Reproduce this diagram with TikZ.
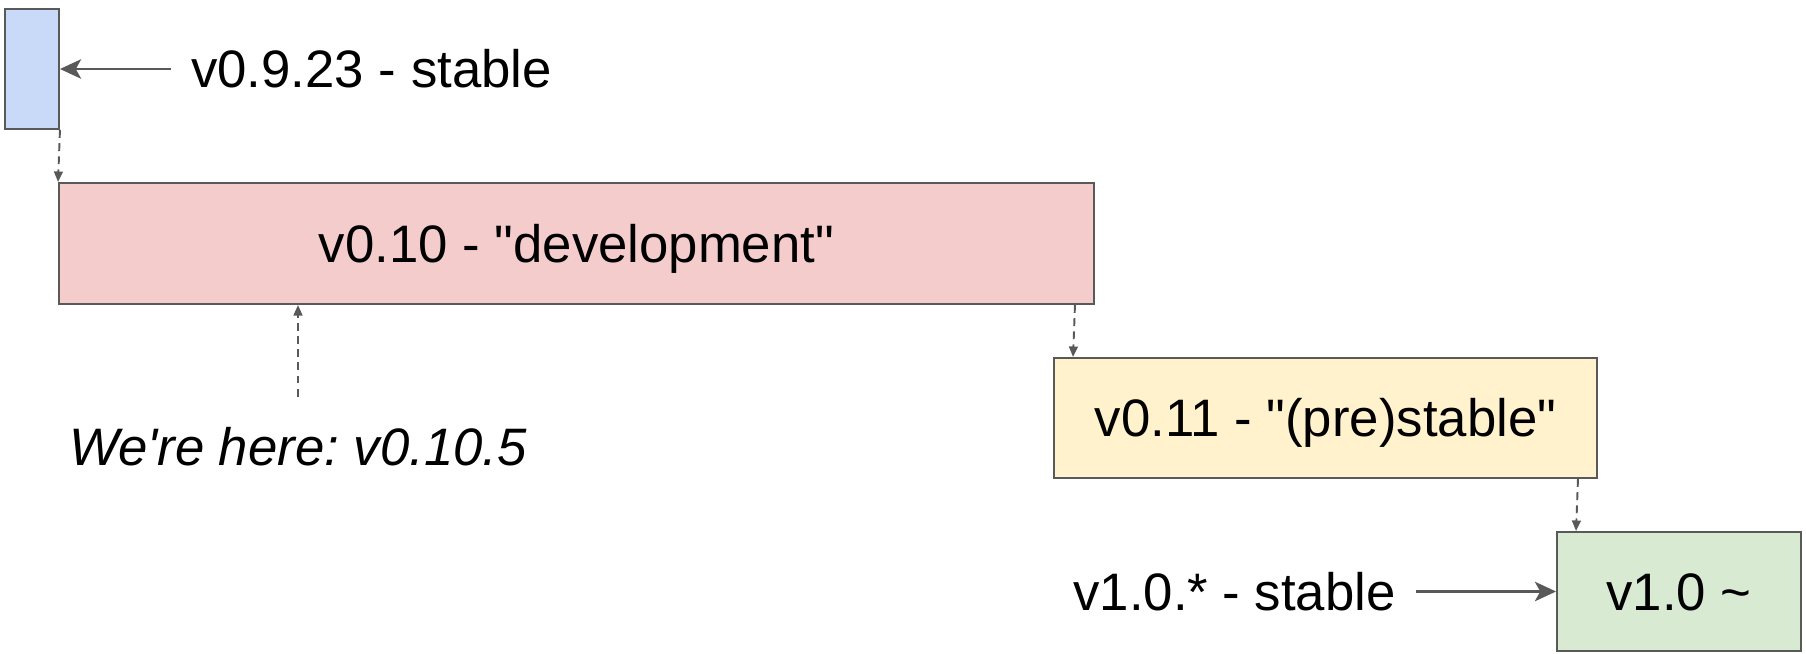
\documentclass[tikz,border=0pt]{standalone}
\usepackage{fontspec}
\setmainfont{Liberation Sans}[Ligatures=TeXOff]
\usetikzlibrary{arrows.meta,positioning}
\definecolor{linegray}{HTML}{595959}
\definecolor{bluefill}{HTML}{C9DAF8}
\definecolor{pinkfill}{HTML}{F4CCCC}
\definecolor{yellowfill}{HTML}{FFF2CC}
\definecolor{greenfill}{HTML}{D9EAD3}

\begin{document}
\begin{tikzpicture}[font=\fontsize{30}{36}\selectfont\frenchspacing,
  box/.style={draw=linegray, line width=1.1pt, inner sep=0pt, text height=21.6pt, text depth=0pt},
  lbl/.style={inner xsep=0.4cm, inner ysep=0pt},
  solidarrow/.style={-{Stealth[length=12pt,width=11pt,inset=3pt]}, draw=linegray, line width=1.7pt},
  dep/.style={-{Triangle[length=6pt,width=5pt]}, draw=linegray, line width=1.1pt, dash pattern=on 4.5pt off 3pt}]
\useasboundingbox (0,0) rectangle (36.12,-13.08);
\node[box, fill=bluefill, minimum width=1.08cm, minimum height=2.4cm] (v0923) at (0.64,-1.38) {};
\node[box, fill=pinkfill, minimum width=20.7cm, minimum height=2.42cm] (v010) at (11.53,-4.87) {v0.10 - "development"};
\node[box, fill=yellowfill, minimum width=10.86cm, minimum height=2.4cm] (v011) at (26.51,-8.36) {v0.11 - "(pre)stable"};
\node[box, fill=greenfill, minimum width=4.88cm, minimum height=2.38cm] (v10) at (33.58,-11.83) {v1.0 \textasciitilde};
\node[lbl, right=2.22cm of v0923] (oldlbl) {v0.9.23 - stable};
\node[lbl, left=2.8cm of v10] (newlbl) {v1.0.* - stable};
\node[inner xsep=0pt, inner ysep=0.62cm, text height=21.6pt, text depth=0pt] (here) at (5.96,-8.94) {\itshape We're here: v0.10.5};
\draw[solidarrow] (oldlbl) -- (v0923);
\draw[solidarrow] (newlbl) -- (v10);
\draw[dep] (v0923.south east) -- (v010.north west);
\draw[dep] ([xshift=-0.4cm]v010.south east) -- ([xshift=0.4cm]v011.north west);
\draw[dep] ([xshift=-0.4cm]v011.south east) -- ([xshift=0.4cm]v10.north west);
\draw[dep] (here.north) -- (here.north |- v010.south);
\end{tikzpicture}
\end{document}
